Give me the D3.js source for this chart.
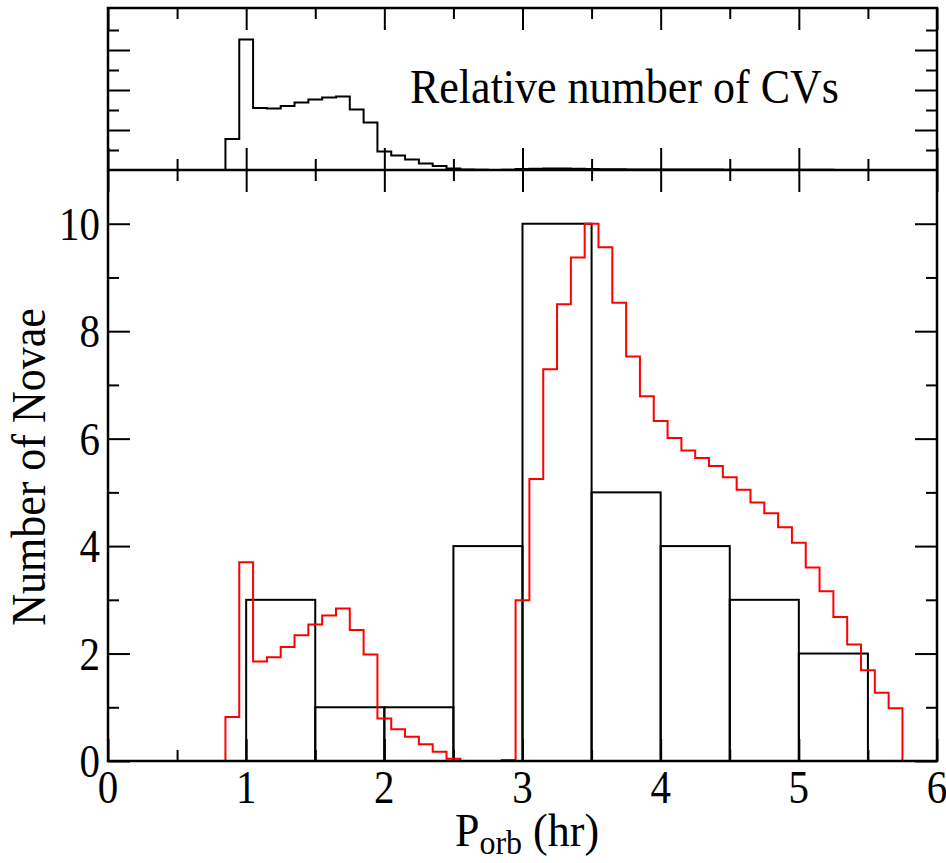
<!DOCTYPE html>
<html>
<head>
<meta charset="utf-8">
<script src="https://cdnjs.cloudflare.com/ajax/libs/d3/7.8.5/d3.min.js"></script>
<style>
    body { margin: 0; background: #fff; }
    text { font-family: "Liberation Serif", "Times New Roman", serif; fill: #000; }
</style>
</head>
<body>
<div id="chart"></div>
<script>
// novae per 0.5 hr bin (black bars)
var novaBinStart = [1.0, 1.5, 2.0, 2.5, 3.0, 3.5, 4.0, 4.5, 5.0];
var novaCounts   = [3, 1, 1, 4, 10, 5, 4, 3, 2];

// model histograms, 0.1 hr bins starting at 0.85 hr
var fineStart = 0.85;
var fineWidth = 0.1;
var modelNovae = [
    0.82, 3.70, 1.85, 1.93, 2.12, 2.34, 2.54, 2.71, 2.84, 2.44,
    1.98, 0.79, 0.59, 0.45, 0.31, 0.17, 0.04, 0, 0, 0,
    0.02, 2.99, 5.25, 7.29, 8.50, 9.37, 10.0, 9.56, 8.53, 7.53,
    6.79, 6.33, 6.01, 5.78, 5.64, 5.49, 5.28, 5.05, 4.81, 4.61,
    4.35, 4.06, 3.60, 3.16, 2.68, 2.17, 1.69, 1.27, 0.98
];
var relativeCVs = [
    1.55, 6.53, 3.10, 3.07, 3.20, 3.37, 3.53, 3.62, 3.67, 3.03,
    2.38, 0.92, 0.72, 0.53, 0.33, 0.20, 0.08, 0.02, 0.01, 0.0,
    0.01, 0.05, 0.06, 0.07, 0.07, 0.06, 0.05, 0.04, 0.04, 0.03,
    0.03, 0.03, 0.02, 0.02, 0.02, 0.02, 0.01, 0.01, 0.01, 0.01,
    0.01, 0.01, 0.01, 0.01, 0.0, 0.0, 0.0, 0.0, 0.0
];

var xMajor = [0, 1, 2, 3, 4, 5, 6];
var xMinor = [0.5, 1.5, 2.5, 3.5, 4.5, 5.5];
var yMainMajor = [0, 2, 4, 6, 8, 10];
var yMainMinor = [1, 3, 5, 7, 9];
var yTopMajor = [2, 4, 6];
var yTopMinor = [1, 3, 5, 7];

var W = 946, H = 863;
var left = 108, right = 937;
var topTop = 8, mid = 170, bottom = 761;

var svg = d3.select("#chart").append("svg")
    .attr("width", W)
    .attr("height", H);

var x = d3.scaleLinear().domain([0, 6]).range([left, right]);
var yMain = d3.scaleLinear().domain([0, 11]).range([bottom, mid]);
var yTop = d3.scaleLinear().domain([0, 8.1]).range([mid, topTop]);

function stepPoints(values)
{
    var pts = [[fineStart, 0]];
    values.forEach(function(v, i) {
        var l = fineStart + i * fineWidth;
        pts.push([l, v]);
        pts.push([l + fineWidth, v]);
    });
    pts.push([fineStart + values.length * fineWidth, 0]);
    return pts;
}

// ticks (inward, major + minor)
function addAxis(axisFn, scale, values, size, transform)
{
    var g = svg.append("g")
        .attr("transform", transform)
        .call(axisFn(scale).tickValues(values).tickSizeInner(-size).tickSizeOuter(0).tickFormat(""));
    g.select(".domain").remove();
    g.selectAll("line").attr("stroke", "#000").attr("stroke-width", 2);
    return g;
}

// main panel
addAxis(d3.axisBottom, x, xMajor, 22, "translate(0," + bottom + ")");
addAxis(d3.axisBottom, x, xMinor, 11, "translate(0," + bottom + ")");
addAxis(d3.axisTop, x, xMajor, 22, "translate(0," + mid + ")").selectAll("line").attr("y2", 22);
addAxis(d3.axisTop, x, xMinor, 11, "translate(0," + mid + ")").selectAll("line").attr("y2", 11);
addAxis(d3.axisLeft, yMain, yMainMajor, 22, "translate(" + left + ",0)");
addAxis(d3.axisLeft, yMain, yMainMinor, 11, "translate(" + left + ",0)");
addAxis(d3.axisRight, yMain, yMainMajor, 22, "translate(" + right + ",0)");
addAxis(d3.axisRight, yMain, yMainMinor, 11, "translate(" + right + ",0)");

// top panel
addAxis(d3.axisBottom, x, xMajor, 22, "translate(0," + mid + ")");
addAxis(d3.axisBottom, x, xMinor, 11, "translate(0," + mid + ")");
addAxis(d3.axisTop, x, xMajor, 22, "translate(0," + topTop + ")");
addAxis(d3.axisTop, x, xMinor, 11, "translate(0," + topTop + ")");
addAxis(d3.axisLeft, yTop, yTopMajor, 22, "translate(" + left + ",0)");
addAxis(d3.axisLeft, yTop, yTopMinor, 11, "translate(" + left + ",0)");
addAxis(d3.axisRight, yTop, yTopMajor, 22, "translate(" + right + ",0)");
addAxis(d3.axisRight, yTop, yTopMinor, 11, "translate(" + right + ",0)");

var line = d3.line();

// black bars
svg.append("g").selectAll("rect")
    .data(novaCounts)
    .enter().append("rect")
    .attr("x", function(d, i) { return x(novaBinStart[i]); })
    .attr("y", function(d) { return yMain(d); })
    .attr("width", function(d, i) { return x(novaBinStart[i] + 0.5) - x(novaBinStart[i]); })
    .attr("height", function(d) { return yMain(0) - yMain(d); })
    .style("fill", "none")
    .style("stroke", "#000")
    .style("stroke-width", 2);

// red model
svg.append("path")
    .attr("d", line(stepPoints(modelNovae).map(function(p) { return [x(p[0]), yMain(p[1])]; })))
    .style("fill", "none")
    .style("stroke", "#ff0000")
    .style("stroke-width", 2);

// top panel CVs
svg.append("path")
    .attr("d", line(stepPoints(relativeCVs).map(function(p) { return [x(p[0]), yTop(p[1])]; })))
    .style("fill", "none")
    .style("stroke", "#000")
    .style("stroke-width", 2);

// frames
svg.append("rect")
    .attr("x", left).attr("y", topTop)
    .attr("width", right - left).attr("height", bottom - topTop)
    .style("fill", "none").style("stroke", "#000").style("stroke-width", 2.5);
svg.append("line")
    .attr("x1", left).attr("x2", right)
    .attr("y1", mid).attr("y2", mid)
    .style("stroke", "#000").style("stroke-width", 2.5);

// tick labels (glyphs stretched a little taller, like the original)
svg.append("g").selectAll("text")
    .data(xMajor)
    .enter().append("text")
    .attr("transform", function(d) { return "translate(" + x(d) + ",803) scale(1,1.12)"; })
    .attr("text-anchor", "middle")
    .attr("font-size", 41)
    .text(function(d) { return d; });

svg.append("g").selectAll("text")
    .data(yMainMajor)
    .enter().append("text")
    .attr("transform", function(d) { return "translate(100," + (yMain(d) + 16) + ") scale(1,1.12)"; })
    .attr("text-anchor", "end")
    .attr("font-size", 41)
    .text(function(d) { return d; });

// labels
svg.append("text")
    .attr("transform", "translate(410,103) scale(1,1.1)")
    .attr("font-size", 44)
    .text("Relative number of CVs");

svg.append("text")
    .attr("transform", "translate(45,467) rotate(-90) scale(1,1.08)")
    .attr("text-anchor", "middle")
    .attr("font-size", 44)
    .text("Number of Novae");

var xl = svg.append("text")
    .attr("transform", "translate(527,846) scale(1,1.05)")
    .attr("text-anchor", "middle")
    .attr("font-size", 44);
xl.append("tspan").text("P");
xl.append("tspan").attr("font-size", 32).attr("dy", 8).text("orb");
xl.append("tspan").attr("dy", -8).text(" (hr)");
</script>
</body>
</html>
